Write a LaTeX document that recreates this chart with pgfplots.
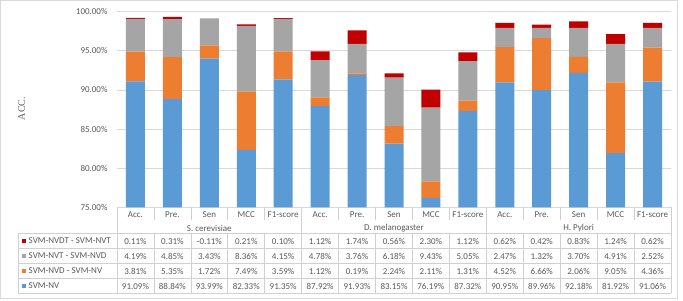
\documentclass[border=0pt]{standalone}
\usepackage{pgfplots}
\usepackage{pgfplotstable}
\pgfplotsset{compat=1.18}
\usepackage{fontspec}
\setmainfont{Carlito}
\newfontfamily\seriffont{Liberation Serif}
\definecolor{cblue}{HTML}{5B9BD5}
\definecolor{corange}{HTML}{ED7D31}
\definecolor{cgray}{HTML}{A5A5A5}
\definecolor{cred}{HTML}{C00000}
\definecolor{txt}{HTML}{595959}
\definecolor{gridc}{HTML}{D9D9D9}
\definecolor{tline}{HTML}{D0D0D0}

\pgfplotstableread{
x nv nvd nvt nvdt
0 91.09 3.81 4.19 0.11
1 88.84 5.35 4.85 0.31
2 93.99 1.72 3.43 -0.11
3 82.33 7.49 8.36 0.21
4 91.35 3.59 4.15 0.10
5 87.92 1.12 4.78 1.12
6 91.93 0.19 3.76 1.74
7 83.15 2.24 6.18 0.56
8 76.19 2.11 9.43 2.30
9 87.32 1.31 5.05 1.12
10 90.95 4.52 2.47 0.62
11 89.96 6.66 1.32 0.42
12 92.18 2.06 3.70 0.83
13 81.92 9.05 4.91 1.24
14 91.06 4.36 2.52 0.62
}\data

\begin{document}
\begin{tikzpicture}[x=1pt,y=1pt,font=\fontsize{9}{11}\selectfont]
\useasboundingbox (0,0) rectangle (683,300);
\draw[gridc,line width=0.8pt] (0.5,1.7) rectangle (677.5,299.5);
\begin{axis}[at={(117pt,92.7pt)},anchor=south west, scale only axis,
  width=554pt, height=195.6pt,
  ybar stacked, bar width=19pt,
  xmin=-0.5, xmax=14.5, ymin=75, ymax=100,
  ytick={75,80,...,100},
  axis line style={draw=none},
  ymajorgrids, grid style={gridc, line width=0.8pt},
  major tick length=0,
  xtick={0,...,14},
  xticklabels={Acc.,Pre.,Sen,MCC,F1-score,Acc.,Pre.,Sen,MCC,F1-score,Acc.,Pre.,Sen,MCC,F1-score},
  ticklabel style={text=txt, font=\fontsize{9}{11}\selectfont},
  yticklabel={\pgfmathprintnumber[fixed,fixed zerofill,precision=2,assume math mode=true]{\tick}\%},
  yticklabel style={xshift=-6pt},
  xticklabel style={yshift=-0.5pt},
]
\addplot[fill=cblue,draw=none] table[x=x,y=nv]{\data};
\addplot[fill=corange,draw=none] table[x=x,y=nvd]{\data};
\addplot[fill=cgray,draw=none] table[x=x,y=nvt]{\data};
\addplot[fill=cred,draw=none] table[x=x,y=nvdt]{\data};
\end{axis}

% table grid
\begin{scope}[draw=tline, line width=0.7pt]
\foreach \yy in {66.5,51.5,36.5,21.5,6.5} \draw (18,\yy) -- (671,\yy);
\draw (18,66.5) -- (18,6.5);
\foreach \k in {0,...,15} \draw ({117+36.93*\k},66.5) -- ({117+36.93*\k},6.5);
\foreach \k in {1,2,3,4,6,7,8,9,11,12,13,14} \draw ({117+36.93*\k},92.7) -- ({117+36.93*\k},80);
\foreach \k in {0,5,10,15} \draw ({117+36.93*\k},92.7) -- ({117+36.93*\k},66.5);
\end{scope}

% group labels
\foreach \g/\name in {0/S. cerevisiae,1/D. melanogaster,2/H. Pylori}
  \node[text=txt] at ({117+36.93*(2.5+5*\g)},72) {\name};

% table values
\foreach \col/\yy in {nvdt/59, nvt/44, nvd/29, nv/14} {
  \foreach \i in {0,...,14} {
    \pgfplotstablegetelem{\i}{\col}\of\data
    \node[text=txt] at ({117+36.93*(\i+0.5)},\yy) {\pgfmathprintnumber[fixed,fixed zerofill,precision=2,assume math mode=true]{\pgfplotsretval}\%};
  }
}

% legend column
\foreach \yy/\c/\t in {59/cred/SVM-NVDT - SVM-NVT, 44/cgray/SVM-NVT - SVM-NVD, 29/corange/SVM-NVD - SVM-NV, 14/cblue/SVM-NV} {
  \fill[\c] (21.5,\yy-2.3) rectangle ++(4.6,4.6);
  \node[anchor=west,text=txt,inner sep=0pt] at (28.5,\yy) {\t};
}

% y label
\node[rotate=90,text=txt,font=\seriffont\fontsize{10}{12}\selectfont] at (21.7,191.5) {ACC.};
\end{tikzpicture}
\end{document}
